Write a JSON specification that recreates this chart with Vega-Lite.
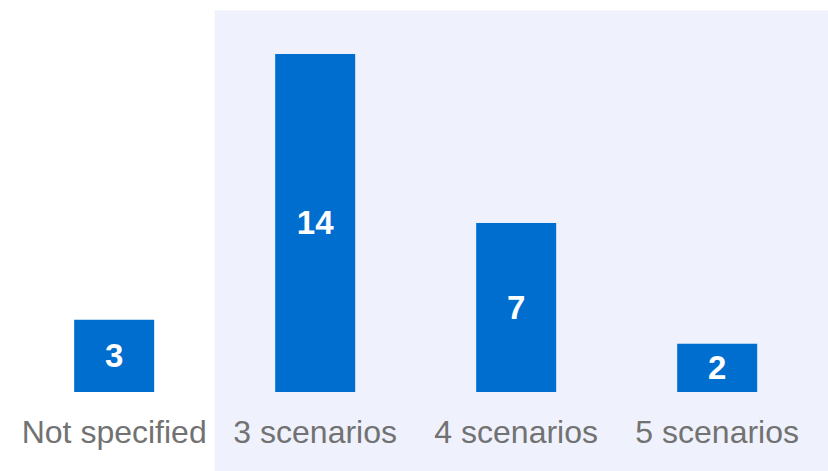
{
  "$schema": "https://vega.github.io/schema/vega-lite/v6.json",
  "width": 828,
  "height": 471,
  "autosize": {"type": "fit", "contains": "padding"},
  "padding": 0,
  "background": "white",
  "config": {"view": {"stroke": null}, "font": "Liberation Sans"},
  "data": {"values": [
    {"category": "Not specified", "count": 3},
    {"category": "3 scenarios", "count": 14},
    {"category": "4 scenarios", "count": 7},
    {"category": "5 scenarios", "count": 2}
  ]},
  "resolve": {"scale": {"y": "independent"}},
  "layer": [
    {
      "data": {"values": [{"category": "3 scenarios"}]},
      "mark": {"type": "rect", "color": "#eff1fd"},
      "encoding": {
        "x": {"field": "category", "type": "nominal", "bandPosition": 0, "axis": null,
              "scale": {"type": "band", "domain": ["Not specified", "3 scenarios", "4 scenarios", "5 scenarios"], "paddingInner": 0, "paddingOuter": 0.0597, "align": 0.57}},
        "x2": {"value": "width"},
        "y": {"datum": 15.8, "type": "quantitative", "axis": null, "scale": {"domain": [-3.27, 16.24], "nice": false, "zero": false}},
        "y2": {"value": "height"}
      }
    },
    {
      "mark": {"type": "bar", "color": "#006ecf", "width": {"band": 0.398}},
      "encoding": {
        "x": {"field": "category", "type": "nominal", "axis": null, "sort": null},
        "y": {"field": "count", "type": "quantitative", "axis": null, "scale": {"domain": [-3.27, 16.24], "nice": false, "zero": false}}
      }
    },
    {
      "mark": {"type": "text", "fontSize": 32, "color": "#727272", "baseline": "alphabetic", "align": "center"},
      "encoding": {
        "x": {"field": "category", "type": "nominal", "axis": null, "sort": null},
        "y": {"datum": -2.1, "type": "quantitative", "axis": null, "scale": {"domain": [-3.27, 16.24], "nice": false, "zero": false}},
        "text": {"field": "category"}
      }
    },
    {
      "mark": {"type": "text", "fontSize": 33, "fontWeight": "bold", "color": "white", "baseline": "middle", "align": "center", "dy": 1},
      "encoding": {
        "x": {"field": "category", "type": "nominal", "axis": null, "sort": null},
        "y": {"field": "count", "type": "quantitative", "axis": null, "scale": {"domain": [-6.54, 32.48], "nice": false, "zero": false}},
        "text": {"field": "count", "type": "quantitative"}
      }
    }
  ]
}
